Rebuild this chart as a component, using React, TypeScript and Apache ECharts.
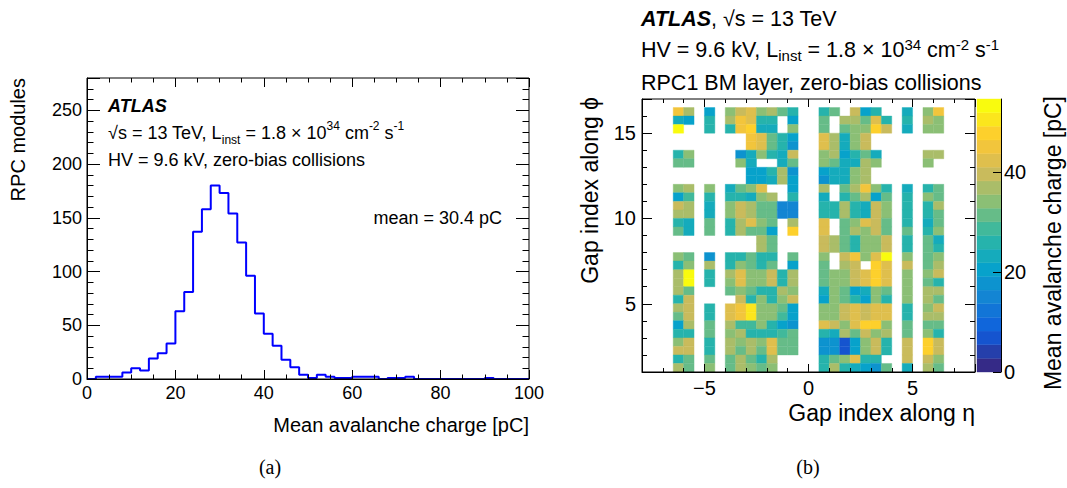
import React, { useEffect, useRef } from "react";
import * as echarts from "echarts";

// ---------- Data: (a) histogram of mean avalanche charge ----------
const BIN_WIDTH = 2; // pC
const moduleCounts = [
  0, 2, 2, 2, 6, 10, 8, 19, 24, 33,
  63, 81, 137, 158, 180, 173, 154, 127, 96, 61,
  42, 31, 18, 11, 4, 1, 4, 2, 1, 1,
  2, 2, 2, 0, 1, 1, 2, 0, 0, 0,
  0, 0, 0, 0, 0, 1, 0, 0, 0, 0,
];
const histXMax = 100;
const histYMax = 280;

// ---------- Data: (b) map of mean charge per gap ----------
const etaCenters = [
  -6.25, -5.75, -5.25, -4.75, -4.25, -3.75, -3.25, -2.75, -2.25, -1.75, -1.25, -0.75, -0.25,
  0.25, 0.75, 1.25, 1.75, 2.25, 2.75, 3.25, 3.75, 4.25, 4.75, 5.25, 5.75, 6.25,
];
const phiCenters = [
  16.25, 15.75, 15.25, 14.75, 14.25, 13.75, 13.25, 12.75, 12.25, 11.75, 11.25,
  10.75, 10.25, 9.75, 9.25, 8.75, 8.25, 7.75, 7.25, 6.75, 6.25, 5.75, 5.25,
  4.75, 4.25, 3.75, 3.25, 2.75, 2.25, 1.75, 1.25,
];
const _ = null;
const chargeGrid: (number | null)[][] = [
  [45, 38, _, 21, _, 35, 40, 43, 35, 37, 31, 26, _, _, 27, 31, _, 40, 20, 27, _, _, 24, _, 35, 46],
  [24, 20, _, 27, _, 38, 46, 41, 27, 25, _, 20, _, _, 31, _, 37, 37, 31, 43, 27, _, 27, _, 37, 34],
  [54, _, _, 25, _, 25, 46, 48, 24, 22, _, 33, _, _, 31, _, 31, 34, 34, 48, 40, _, 24, _, 34, 34],
  [_, _, _, _, _, _, _, 46, 43, 31, 27, 20, _, _, 43, 37, 24, 34, 40, _, _, _, _, _, _, _],
  [_, _, _, _, _, _, _, 44, 42, 31, 26, 19, _, _, 42, 37, 24, 34, 39, _, _, _, _, _, _, _],
  [27, 34, _, _, _, _, 17, 24, 34, 27, 24, 39, _, _, 34, 37, 20, 27, 31, 24, _, _, _, _, 38, 38],
  [31, 31, _, _, _, _, 35, 24, _, _, 24, 31, _, _, 34, 31, 24, 24, 37, 34, _, _, _, _, 34, _],
  [_, _, _, _, _, _, _, 20, 21, 25, 38, 19, _, _, 20, 24, 24, 34, 37, _, _, _, _, _, _, _],
  [_, _, _, _, _, _, _, 21, 20, 24, 37, 20, _, _, 19, 24, 24, 34, 37, _, _, _, _, _, _, _],
  [35, 37, _, 34, _, 24, 31, 34, 43, _, _, 20, _, _, 37, _, 31, 37, 46, 34, 27, _, 24, _, 27, 31],
  [21, 30, _, 25, _, 27, 27, 23, 34, 37, _, 27, _, _, 22, _, 27, 31, 38, 20, 31, _, 27, _, 34, 31],
  [40, 37, _, 24, _, 34, 40, 37, 31, 31, 16, 16, _, _, 27, 27, 37, 27, 23, 40, 34, _, 27, _, 27, 37],
  [37, 37, _, 24, _, 34, 40, 37, 31, 31, 16, 16, _, _, 27, 27, 37, 27, 23, 40, 34, _, 27, _, 25, 31],
  [27, 23, _, 31, _, 27, 37, 43, 34, 31, _, 37, _, _, 43, _, 31, 34, 43, 40, 31, _, 27, _, 23, 31],
  [31, 24, _, 31, _, 27, 37, 31, 31, 21, _, 48, _, _, 43, _, 31, 37, 34, 40, 31, _, 31, _, 27, 34],
  [_, _, _, _, _, _, _, _, 38, 31, _, _, _, _, 40, 37, 31, 27, 34, 34, 40, _, 27, _, 31, 24],
  [_, _, _, _, _, _, _, _, 36, 31, _, _, _, _, 40, 37, 31, 27, 34, 34, 40, _, 27, _, 31, 27],
  [34, 31, _, 19, _, 27, 27, 31, 27, 27, _, 31, _, _, 34, _, 40, 46, 34, 43, 54, _, 34, _, 31, 34],
  [27, 34, _, 37, _, 27, 34, 31, 27, 31, _, 21, _, _, 31, _, 37, 40, _, 48, 43, _, 40, _, 31, 37],
  [37, 54, _, 27, _, 37, 43, 34, 34, 40, 27, 37, _, _, 31, 34, 34, 40, 43, 48, 43, _, 34, _, 34, 40],
  [37, 54, _, 27, _, 34, 42, 34, 34, 40, 27, 37, _, _, 31, 34, 34, 40, 43, 48, 42, _, 34, _, 31, 27],
  [37, 31, _, _, _, 31, 33, 31, 27, 27, 37, 34, _, _, 24, 34, 31, 21, 24, 34, 31, _, 34, _, 37, 37],
  [27, 40, _, _, _, _, 40, 27, 34, 27, 34, 40, _, _, 20, 34, 31, 27, 20, 34, 27, _, 34, _, 37, 31],
  [37, 40, _, 27, _, 43, 46, 50, 34, 34, 31, 21, _, _, 34, 34, 40, 42, 40, 43, 43, _, 27, _, 34, 40],
  [31, 40, _, 27, _, 43, 46, 50, 34, 33, 28, 21, _, _, 34, 34, 40, 42, 40, 43, 43, _, 27, _, 37, 37],
  [20, 37, _, 31, _, 37, 28, 28, 34, 27, 20, 19, _, _, 43, 40, 34, 43, 48, 48, 34, _, 31, _, 31, 31],
  [27, 27, _, 31, _, 34, 37, 27, 27, 27, 28, 31, _, _, 27, 24, 37, 31, 40, 34, 37, _, 31, _, 34, 27],
  [34, 40, _, 27, _, 37, 34, 37, 34, 43, 31, 31, _, _, 19, 19, 8, 20, 34, 40, 27, _, 40, _, 48, 40],
  [40, 40, _, 27, _, 37, 31, 37, 31, 43, 31, 31, _, _, 19, 19, 8, 20, 34, 40, 27, _, 40, _, 48, 40],
  [27, 31, _, 31, _, 31, 37, 31, 27, 37, _, _, _, _, 27, 31, 34, 43, 27, 27, _, _, 40, _, 40, 34],
  [37, 31, _, 34, _, 31, 37, 34, 31, 34, _, _, _, _, 27, 37, 27, 24, 20, 19, 31, _, 22, _, 37, 31],
];
const CELL_HALF = 0.25;
const zMax = 54.6;
const nLevels = 20;

// ---------- Styling ----------
const FONT = '"Liberation Sans", Arial, Helvetica, sans-serif';
const SERIF = '"Liberation Serif", "Times New Roman", serif';
const birdStops = ["#352A87", "#0F5CDD", "#1481D4", "#06A4CA", "#2EB7A4", "#87BF77", "#D1BB59", "#FEC832", "#F9FB0E"];

function hexToRgb(h: string) {
  return [parseInt(h.slice(1, 3), 16), parseInt(h.slice(3, 5), 16), parseInt(h.slice(5, 7), 16)];
}
function birdColor(t: number) {
  const s = Math.max(0, Math.min(1, t)) * (birdStops.length - 1);
  const i = Math.min(Math.floor(s), birdStops.length - 2);
  const f = s - i;
  const a = hexToRgb(birdStops[i]);
  const b = hexToRgb(birdStops[i + 1]);
  const c = a.map((v, k) => Math.round(v + (b[k] - v) * f));
  return `rgb(${c[0]},${c[1]},${c[2]})`;
}

export default function App() {
  const ref = useRef<HTMLDivElement>(null);

  useEffect(() => {
    if (!ref.current) return;
    const chart = echarts.init(ref.current, null, { renderer: "svg" });

    const histData: number[][] = moduleCounts.map((c, i) => [i * BIN_WIDTH, c]);
    histData.push([histXMax, moduleCounts[moduleCounts.length - 1]]);

    const heatData: number[][] = [];
    chargeGrid.forEach((row, r) =>
      row.forEach((v, c) => {
        if (v !== null) heatData.push([etaCenters[c], phiCenters[r], v]);
      })
    );

    const levelWidth = zMax / nLevels;
    const pieces: any[] = [];
    const bandData: number[][] = [];
    for (let i = 0; i < nLevels; i++) {
      const lo = i * levelWidth;
      const hi = (i + 1) * levelWidth;
      pieces.push(
        i === nLevels - 1
          ? { gte: lo, lte: hi + 10, color: birdColor(i / (nLevels - 1)) }
          : { gte: lo, lt: hi, color: birdColor(i / (nLevels - 1)) }
      );
      bandData.push([0, lo, (lo + hi) / 2, hi]);
    }

    const lbl = (size: number, extra: any = {}) => ({
      color: "#000",
      fontFamily: FONT,
      fontSize: size,
      ...extra,
    });
    const line = { show: true, onZero: false, lineStyle: { color: "#000", width: 1 } };
    const noLine = { show: false, onZero: false };

    const mkAxis = (o: any) => ({
      type: "value",
      splitLine: { show: false },
      z: 10,
      ...o,
    });

    const txt = (x: number, y: number, text: string, o: any = {}) => ({
      type: "text",
      x,
      y,
      z: 100,
      rotation: o.rotation || 0,
      style: {
        text,
        fill: "#000",
        fontFamily: FONT,
        fontSize: o.fontSize || 18,
        fontWeight: o.fontWeight || "normal",
        fontStyle: o.fontStyle || "normal",
        align: o.align || "left",
        verticalAlign: "middle",
        lineHeight: o.lineHeight || 26,
        rich: o.rich,
      },
    });

    const richFor = (size: number) => ({
      sub: { fontFamily: FONT, fontSize: Math.round(size * 0.68), verticalAlign: "bottom", lineHeight: 26 },
      sup: { fontFamily: FONT, fontSize: Math.round(size * 0.68), verticalAlign: "top", lineHeight: 26 },
      b: { fontFamily: FONT, fontSize: size, fontWeight: "bold", fontStyle: "italic", lineHeight: 26 },
    });

    const option: any = {
      animation: false,
      textStyle: { fontFamily: FONT },
      grid: [
        { left: 87, top: 78, width: 442, height: 301, show: true, borderColor: "#000", borderWidth: 1, z: 10, backgroundColor: "transparent" },
        { left: 642, top: 99, width: 333, height: 273, show: true, borderColor: "#000", borderWidth: 1, z: 10, backgroundColor: "transparent" },
        { left: 977, top: 99, width: 24, height: 273, show: false },
      ],
      xAxis: [
        mkAxis({
          gridIndex: 0, position: "bottom", min: 0, max: histXMax, interval: 20,
          axisLine: line,
          axisTick: { show: true, inside: true, length: 9, lineStyle: { color: "#000" } },
          minorTick: { show: true, splitNumber: 4, length: 4.5, lineStyle: { color: "#000" } },
          axisLabel: lbl(18, { margin: 5 }),
        }),
        mkAxis({
          gridIndex: 0, position: "top", min: 0, max: histXMax, interval: 20,
          axisLine: noLine,
          axisTick: { show: true, inside: true, length: 9, lineStyle: { color: "#000" } },
          minorTick: { show: true, splitNumber: 4, length: 4.5, lineStyle: { color: "#000" } },
          axisLabel: { show: false },
        }),
        mkAxis({
          gridIndex: 1, position: "bottom", min: -8, max: 8, splitNumber: 3,
          axisLine: line,
          axisTick: { show: true, inside: true, length: 8, lineStyle: { color: "#000" } },
          minorTick: { show: true, splitNumber: 5, length: 4, lineStyle: { color: "#000" } },
          axisLabel: lbl(20, {
            margin: 6, showMinLabel: false, showMaxLabel: false,
            formatter: (v: number) => String(v).replace("-", "\u2212"),
          }),
        }),
        mkAxis({
          gridIndex: 1, position: "top", min: -8, max: 8, splitNumber: 3,
          axisLine: noLine,
          axisTick: { show: true, inside: true, length: 8, lineStyle: { color: "#000" } },
          minorTick: { show: true, splitNumber: 5, length: 4, lineStyle: { color: "#000" } },
          axisLabel: { show: false },
        }),
        mkAxis({ gridIndex: 2, min: 0, max: 1, show: false }),
      ],
      yAxis: [
        mkAxis({
          gridIndex: 0, position: "left", min: 0, max: histYMax, interval: 50,
          axisLine: line,
          axisTick: { show: true, inside: true, length: 13, lineStyle: { color: "#000" } },
          minorTick: { show: true, splitNumber: 5, length: 6.5, lineStyle: { color: "#000" } },
          axisLabel: lbl(18, { margin: 5, showMaxLabel: false }),
        }),
        mkAxis({
          gridIndex: 0, position: "right", min: 0, max: histYMax, interval: 50,
          axisLine: noLine,
          axisTick: { show: true, inside: true, length: 13, lineStyle: { color: "#000" } },
          minorTick: { show: true, splitNumber: 5, length: 6.5, lineStyle: { color: "#000" } },
          axisLabel: { show: false },
        }),
        mkAxis({
          gridIndex: 1, position: "left", min: 1, max: 17, splitNumber: 3,
          axisLine: line,
          axisTick: { show: true, inside: true, length: 10, lineStyle: { color: "#000" } },
          minorTick: { show: true, splitNumber: 5, length: 5, lineStyle: { color: "#000" } },
          axisLabel: lbl(20, { margin: 6, showMinLabel: false, showMaxLabel: false }),
        }),
        mkAxis({
          gridIndex: 1, position: "right", min: 1, max: 17, splitNumber: 3,
          axisLine: noLine,
          axisTick: { show: true, inside: true, length: 10, lineStyle: { color: "#000" } },
          minorTick: { show: true, splitNumber: 5, length: 5, lineStyle: { color: "#000" } },
          axisLabel: { show: false },
        }),
        mkAxis({
          gridIndex: 2, position: "right", min: 0, max: zMax, splitNumber: 3,
          axisLine: line,
          axisTick: { show: true, inside: true, length: 8, lineStyle: { color: "#000" } },
          axisLabel: lbl(20, { margin: 3, showMaxLabel: false }),
        }),
      ],
      visualMap: [
        { type: "piecewise", show: false, dimension: 2, seriesIndex: [1, 2], pieces },
      ],
      series: [
        {
          type: "line",
          xAxisIndex: 0,
          yAxisIndex: 0,
          data: histData,
          step: "end",
          symbol: "none",
          showSymbol: false,
          lineStyle: { color: "#0000ff", width: 2 },
          silent: true,
          z: 3,
        },
        {
          type: "custom",
          xAxisIndex: 2,
          yAxisIndex: 2,
          data: heatData,
          encode: { x: 0, y: 1 },
          silent: true,
          renderItem: (_p: any, api: any) => {
            const eta = api.value(0);
            const phi = api.value(1);
            const p0 = api.coord([eta - CELL_HALF, phi + CELL_HALF]);
            const p1 = api.coord([eta + CELL_HALF, phi - CELL_HALF]);
            const col = api.visual("color");
            return {
              type: "rect",
              shape: { x: p0[0], y: p0[1], width: p1[0] - p0[0], height: p1[1] - p0[1] },
              style: { fill: col, stroke: col, lineWidth: 0.4 },
            };
          },
          z: 2,
        },
        {
          type: "custom",
          xAxisIndex: 4,
          yAxisIndex: 4,
          data: bandData,
          encode: { x: 0, y: 1 },
          silent: true,
          renderItem: (_p: any, api: any) => {
            const a = api.coord([0, api.value(1)]);
            const b = api.coord([1, api.value(3)]);
            const col = api.visual("color");
            return {
              type: "rect",
              shape: { x: a[0], y: b[1], width: b[0] - a[0], height: a[1] - b[1] },
              style: { fill: col, stroke: col, lineWidth: 0.4 },
            };
          },
          z: 2,
        },
      ],
      graphic: [
        // (a) annotations
        txt(108, 106, "{b|ATLAS}", { rich: richFor(18) }),
        txt(108, 133, "\u221As = 13 TeV, L{sub|inst} = 1.8 \u00D7 10{sup|34} cm{sup|-2} s{sup|-1}", { rich: richFor(18) }),
        txt(108, 160, "HV = 9.6 kV, zero-bias collisions"),
        txt(502, 218, "mean = 30.4 pC", { align: "right" }),
        txt(529, 425, "Mean avalanche charge [pC]", { align: "right", fontSize: 20 }),
        txt(18, 78, "RPC modules", { align: "right", rotation: Math.PI / 2, fontSize: 20 }),
        // (b) annotations
        txt(641, 19, "{b|ATLAS}, \u221As = 13 TeV", { rich: richFor(21.5), fontSize: 21.5 }),
        txt(641, 50, "HV = 9.6 kV, L{sub|inst} = 1.8 \u00D7 10{sup|34} cm{sup|-2} s{sup|-1}", { rich: richFor(21.5), fontSize: 21.5 }),
        txt(641, 83, "RPC1 BM layer, zero-bias collisions", { fontSize: 21.5 }),
        txt(975, 413, "Gap index along \u03B7", { align: "right", fontSize: 23 }),
        txt(590, 97, "Gap index along \u03D5", { align: "right", rotation: Math.PI / 2, fontSize: 23 }),
        txt(1053, 96, "Mean avalanche charge [pC]", { align: "right", rotation: Math.PI / 2, fontSize: 23 }),
        // captions
        {
          type: "text", x: 270, y: 467, z: 100,
          style: { text: "(a)", fill: "#000", fontFamily: SERIF, fontSize: 20, align: "center", verticalAlign: "middle" },
        },
        {
          type: "text", x: 808, y: 467, z: 100,
          style: { text: "(b)", fill: "#000", fontFamily: SERIF, fontSize: 20, align: "center", verticalAlign: "middle" },
        },
      ],
    };

    chart.setOption(option);
    return () => chart.dispose();
  }, []);

  return (
    <div
      ref={ref}
      style={{ position: "fixed", left: 0, top: 0, width: 1067, height: 488, background: "#fff" }}
    />
  );
}
